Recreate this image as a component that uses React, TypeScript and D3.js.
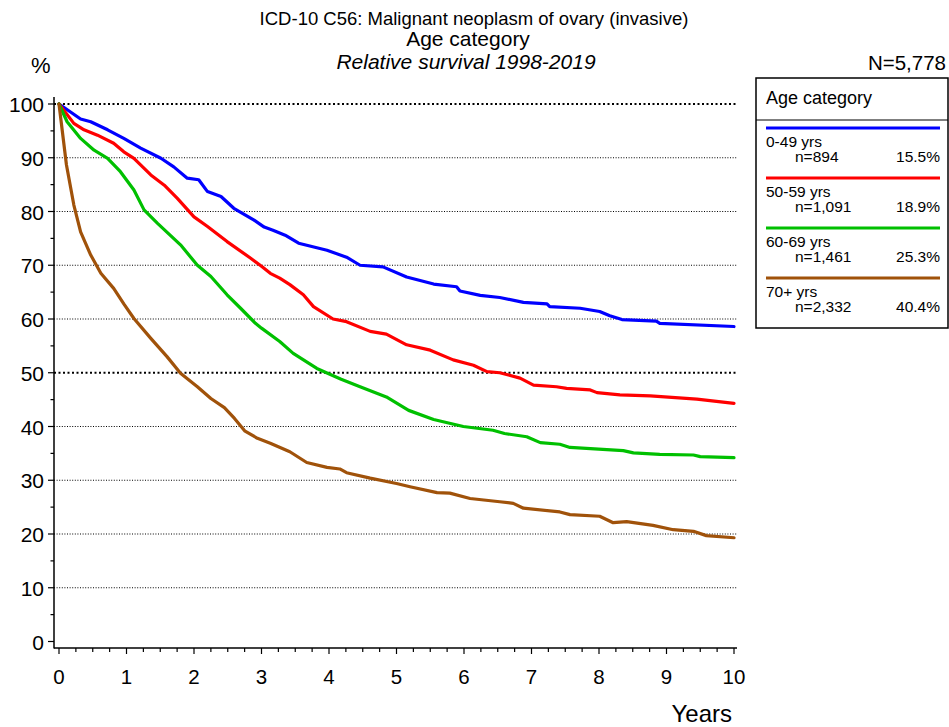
import React from "react";
import * as d3 from "d3";

// ---- Data ----
const seriesNames = ["0-49 yrs", "50-59 yrs", "60-69 yrs", "70+ yrs"];
const seriesCounts = ["n=894", "n=1,091", "n=1,461", "n=2,332"];
const seriesShares = ["15.5%", "18.9%", "25.3%", "40.4%"];
const seriesColors = ["#0000ff", "#ff0000", "#00c000", "#a0520a"];

const blueYears = [0, 0.32, 0.47, 0.72, 0.96, 1.21, 1.51, 1.7, 1.9, 2.07, 2.2, 2.4, 2.59, 2.89, 3.04, 3.17, 3.35, 3.55, 3.97, 4.26, 4.46, 4.8, 5.15, 5.55, 5.89, 5.94, 6.24, 6.53, 6.88, 7.23, 7.27, 7.72, 8.01, 8.16, 8.34, 8.85, 8.9, 10];
const blueSurvival = [100, 97.2, 96.7, 95.2, 93.6, 91.8, 89.9, 88.3, 86.2, 85.9, 83.7, 82.8, 80.6, 78.4, 77.1, 76.5, 75.6, 74.1, 72.8, 71.5, 70.0, 69.7, 67.8, 66.5, 66.0, 65.2, 64.4, 64.0, 63.1, 62.8, 62.3, 62.0, 61.4, 60.6, 59.9, 59.6, 59.2, 58.6];

const redYears = [0, 0.22, 0.37, 0.57, 0.81, 0.96, 1.11, 1.36, 1.56, 1.75, 2.0, 2.2, 2.49, 2.84, 3.0, 3.13, 3.27, 3.42, 3.62, 3.77, 4.06, 4.26, 4.61, 4.85, 5.15, 5.5, 5.84, 6.14, 6.34, 6.53, 6.83, 7.03, 7.37, 7.52, 7.87, 7.97, 8.31, 8.76, 9.45, 10];
const redSurvival = [100, 96.4, 95.2, 94.2, 92.7, 91.1, 89.9, 86.8, 84.9, 82.5, 79.0, 77.2, 74.4, 71.3, 69.8, 68.5, 67.6, 66.4, 64.5, 62.3, 60.0, 59.5, 57.7, 57.2, 55.2, 54.2, 52.4, 51.4, 50.2, 50.0, 49.0, 47.7, 47.4, 47.1, 46.8, 46.3, 45.9, 45.7, 45.1, 44.3];

const greenYears = [0, 0.12, 0.32, 0.52, 0.72, 0.91, 1.11, 1.26, 1.46, 1.8, 2.05, 2.25, 2.49, 2.69, 2.91, 3.0, 3.27, 3.47, 3.82, 4.18, 4.46, 4.85, 5.18, 5.55, 5.99, 6.43, 6.6, 6.93, 7.13, 7.42, 7.57, 8.36, 8.51, 8.9, 9.4, 9.5, 10];
const greenSurvival = [100, 96.7, 93.6, 91.4, 89.9, 87.4, 84.0, 80.3, 77.8, 73.8, 70.0, 67.9, 64.5, 62.0, 59.2, 58.3, 55.8, 53.6, 50.8, 48.8, 47.4, 45.5, 43.0, 41.3, 40.0, 39.3, 38.7, 38.1, 37.0, 36.7, 36.1, 35.5, 35.1, 34.8, 34.7, 34.4, 34.2];

const brownYears = [0, 0.11, 0.22, 0.32, 0.47, 0.62, 0.81, 0.96, 1.11, 1.36, 1.6, 1.8, 2.05, 2.25, 2.45, 2.6, 2.75, 2.94, 3.13, 3.42, 3.67, 3.97, 4.16, 4.26, 4.61, 5.0, 5.2, 5.6, 5.79, 6.09, 6.53, 6.73, 6.88, 7.42, 7.57, 8.01, 8.21, 8.41, 8.8, 9.1, 9.4, 9.59, 10];
const brownSurvival = [100, 88.7, 81.2, 76.2, 71.9, 68.5, 65.7, 62.8, 60.1, 56.4, 53.0, 49.9, 47.4, 45.2, 43.5, 41.5, 39.2, 37.8, 36.9, 35.3, 33.3, 32.4, 32.1, 31.4, 30.4, 29.4, 28.8, 27.7, 27.6, 26.6, 26.0, 25.7, 24.8, 24.1, 23.6, 23.3, 22.1, 22.3, 21.6, 20.8, 20.5, 19.7, 19.3];

const seriesYears = [blueYears, redYears, greenYears, brownYears];
const seriesSurvival = [blueSurvival, redSurvival, greenSurvival, brownSurvival];

const yTicks = [0, 10, 20, 30, 40, 50, 60, 70, 80, 90, 100];
const xTicks = [0, 1, 2, 3, 4, 5, 6, 7, 8, 9, 10];
const gridValues = [10, 20, 30, 40, 50, 60, 70, 80, 90, 100];
const boldGrid = [50, 100];

const W = 949;
const H = 727;
const FONT = "'Liberation Sans', Arial, Helvetica, sans-serif";

export default function App() {
  const x = d3.scaleLinear().domain([0, 10]).range([59, 734]);
  const y = d3.scaleLinear().domain([0, 100]).range([641.5, 104]);
  const axisX = 54;
  const axisY = 648;

  const line = d3
    .line<[number, number]>()
    .x((d) => x(d[0]))
    .y((d) => y(d[1]))
    .curve(d3.curveLinear);

  const minorY = d3.range(5, 100, 10);
  const minorX = d3.range(0, 10.01, 0.25).filter((v) => Math.abs(v - Math.round(v)) > 1e-6);

  const legendX = 756;
  const legendTop = 78;
  const legendW = 192;
  const legendH = 250;

  return (
    <svg
      width={W}
      height={H}
      style={{ position: "absolute", left: 0, top: 0, background: "#fff" }}
      fontFamily={FONT}
    >
      <rect x={0} y={0} width={W} height={H} fill="#fff" />
      {/* Titles */}
      <text x={474} y={25} fontSize={18.5} textAnchor="middle" fill="#000">
        ICD-10 C56: Malignant neoplasm of ovary (invasive)
      </text>
      <text x={468} y={46} fontSize={21} textAnchor="middle" fill="#000">
        Age category
      </text>
      <text x={466} y={69} fontSize={21} textAnchor="middle" fontStyle="italic" fill="#000">
        Relative survival 1998-2019
      </text>
      <text x={31} y={73} fontSize={22} fill="#000">
        %
      </text>
      <text x={946} y={70} fontSize={20.5} textAnchor="end" fill="#000">
        N=5,778
      </text>

      {/* Gridlines */}
      {gridValues.map((v) => {
        const bold = boldGrid.includes(v);
        return (
          <line
            key={"g" + v}
            x1={axisX}
            x2={737}
            y1={y(v)}
            y2={y(v)}
            stroke="#000"
            strokeWidth={bold ? 2 : 1.1}
            strokeDasharray={bold ? "2,2.5" : "1,1.6"}
          />
        );
      })}

      {/* Y axis */}
      <line x1={axisX} x2={axisX} y1={97} y2={axisY + 0.5} stroke="#000" strokeWidth={1.5} />
      {yTicks.map((v) => (
        <g key={"yt" + v}>
          <line x1={axisX - 6} x2={axisX} y1={y(v)} y2={y(v)} stroke="#000" strokeWidth={1.2} />
          <text x={44} y={y(v) + 8} fontSize={21} textAnchor="end" fill="#000">
            {v}
          </text>
        </g>
      ))}
      {minorY.map((v) => (
        <line key={"ym" + v} x1={axisX - 3.5} x2={axisX} y1={y(v)} y2={y(v)} stroke="#000" strokeWidth={1.2} />
      ))}

      {/* X axis */}
      <line x1={axisX} x2={737} y1={axisY} y2={axisY} stroke="#000" strokeWidth={1.5} />
      {xTicks.map((v) => (
        <g key={"xt" + v}>
          <line x1={x(v)} x2={x(v)} y1={axisY} y2={axisY + 6} stroke="#000" strokeWidth={1.2} />
          <text x={x(v)} y={684} fontSize={20.5} textAnchor="middle" fill="#000">
            {v}
          </text>
        </g>
      ))}
      {minorX.map((v) => (
        <line key={"xm" + v} x1={x(v)} x2={x(v)} y1={axisY} y2={axisY + 4} stroke="#000" strokeWidth={1.2} />
      ))}
      <text x={732} y={722} fontSize={24} textAnchor="end" fill="#000">
        Years
      </text>

      {/* Curves */}
      {seriesYears.map((years, i) => {
        const pts: [number, number][] = years.map((t, j) => [t, seriesSurvival[i][j]]);
        return (
          <path
            key={"s" + i}
            d={line(pts) || ""}
            fill="none"
            stroke={seriesColors[i]}
            strokeWidth={3.2}
            strokeLinejoin="round"
            strokeLinecap="round"
          />
        );
      })}

      {/* Legend */}
      <rect x={legendX} y={legendTop} width={legendW} height={legendH} fill="#fff" stroke="#000" strokeWidth={1.5} />
      <line x1={legendX} x2={legendX + legendW} y1={120} y2={120} stroke="#000" strokeWidth={1.2} />
      <text x={766} y={104} fontSize={18} fill="#000">
        Age category
      </text>
      {seriesNames.map((name, i) => {
        const top = 128 + i * 50;
        return (
          <g key={"l" + i}>
            <line x1={766} x2={940} y1={top} y2={top} stroke={seriesColors[i]} strokeWidth={3} />
            <text x={766} y={top + 19} fontSize={15.5} fill="#000">
              {name}
            </text>
            <text x={795} y={top + 34} fontSize={15.5} fill="#000">
              {seriesCounts[i]}
            </text>
            <text x={940} y={top + 34} fontSize={15.5} textAnchor="end" fill="#000">
              {seriesShares[i]}
            </text>
          </g>
        );
      })}
    </svg>
  );
}
